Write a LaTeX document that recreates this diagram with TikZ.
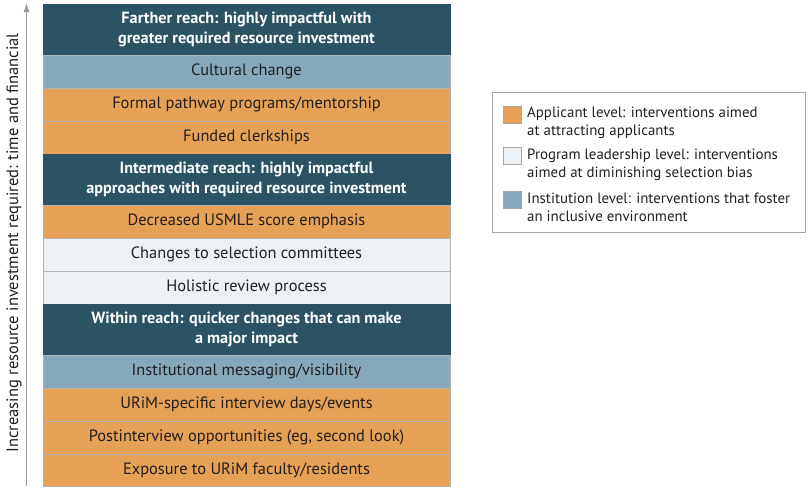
\documentclass[tikz,border=0pt]{standalone}
\usepackage{fontspec}
\setmainfont{PT Sans}
\usetikzlibrary{arrows.meta}
\definecolor{darkteal}{HTML}{2C5364}
\definecolor{instblue}{HTML}{86A8BA}
\definecolor{applorange}{HTML}{E6A157}
\definecolor{progpale}{HTML}{EBF1F5}
\definecolor{sepgray}{HTML}{B5B5B5}
\definecolor{arrowgray}{HTML}{9A9A9A}
\definecolor{txt}{HTML}{231F20}
\tikzset{
  rowbox/.style={draw=sepgray, line width=0.8pt, minimum width=407pt, inner sep=0pt,
    align=center, text=txt, font=\fontsize{16.4}{20}\selectfont},
  applrow/.style={rowbox, fill=applorange, minimum height=33pt},
  progrow/.style={rowbox, fill=progpale, minimum height=33pt},
  instrow/.style={rowbox, fill=instblue, minimum height=33pt},
  headrow/.style={rowbox, fill=darkteal, draw=darkteal, minimum height=51pt, text=white,
    font=\fontsize{16.2}{20}\selectfont\bfseries},
  swatch/.style={draw=gray!70, line width=0.8pt, minimum width=18pt, minimum height=17pt, inner sep=0pt},
  legtext/.style={anchor=north west, align=left, inner sep=0pt, text=txt,
    font=\fontsize{14.9}{18}\selectfont},
}
\begin{document}
\begin{tikzpicture}[x=1pt,y=-1pt]
\useasboundingbox (0,0) rectangle (810,490);
\fill[white] (0,0) rectangle (810,490);
% rows
\node[headrow] (r1) at (246.5,29.5) {Farther reach: highly impactful with\\greater required resource investment};
\node[instrow] (r2) at (246.5,71.5) {Cultural change};
\node[applrow] (r3) at (246.5,104.5) {Formal pathway programs/mentorship};
\node[applrow] (r4) at (246.5,137.5) {Funded clerkships};
\node[headrow] (r5) at (246.5,179.5) {Intermediate reach: highly impactful\\approaches with required resource investment};
\node[applrow] (r6) at (246.5,221.5) {Decreased USMLE score emphasis};
\node[progrow] (r7) at (246.5,254.5) {Changes to selection committees};
\node[progrow] (r8) at (246.5,287.5) {Holistic review process};
\node[headrow] (r9) at (246.5,329.5) {Within reach: quicker changes that can make\\a major impact};
\node[instrow] (r10) at (246.5,371.5) {Institutional messaging/visibility};
\node[applrow] (r11) at (246.5,404.5) {URiM-specific interview days/events};
\node[applrow] (r12) at (246.5,437.5) {Postinterview opportunities (eg, second look)};
\node[applrow, minimum height=32pt] (r13) at (246.5,470) {Exposure to URiM faculty/residents};
% axis arrow
\coordinate (abot) at (26.5,486);
\coordinate (atop) at (26.5,3);
\draw[arrowgray, line width=1pt, -{Latex[length=9pt,width=6pt]}] (abot) -- (atop);
\node[rotate=90, text=txt, font=\fontsize{16.5}{18}\selectfont, inner sep=0pt] (alabel) at (14,243)
  {Increasing resource investment required: time and financial};
% legend
\node[draw=gray!70, line width=0.8pt, minimum width=313pt, minimum height=140pt, inner sep=0pt] (legend) at (648.5,162) {};
\node[swatch, fill=applorange] (s1) at (512,114.5) {};
\node[swatch, fill=progpale] (s2) at (512,156) {};
\node[swatch, fill=instblue] (s3) at (512,200) {};
\node[legtext] (t1) at (527,106.5) {Applicant level: interventions aimed\\at attracting applicants};
\node[legtext] (t2) at (527,148.5) {Program leadership level: interventions\\aimed at diminishing selection bias};
\node[legtext] (t3) at (527,192.5) {Institution level: interventions that foster\\an inclusive environment};
\end{tikzpicture}
\end{document}
